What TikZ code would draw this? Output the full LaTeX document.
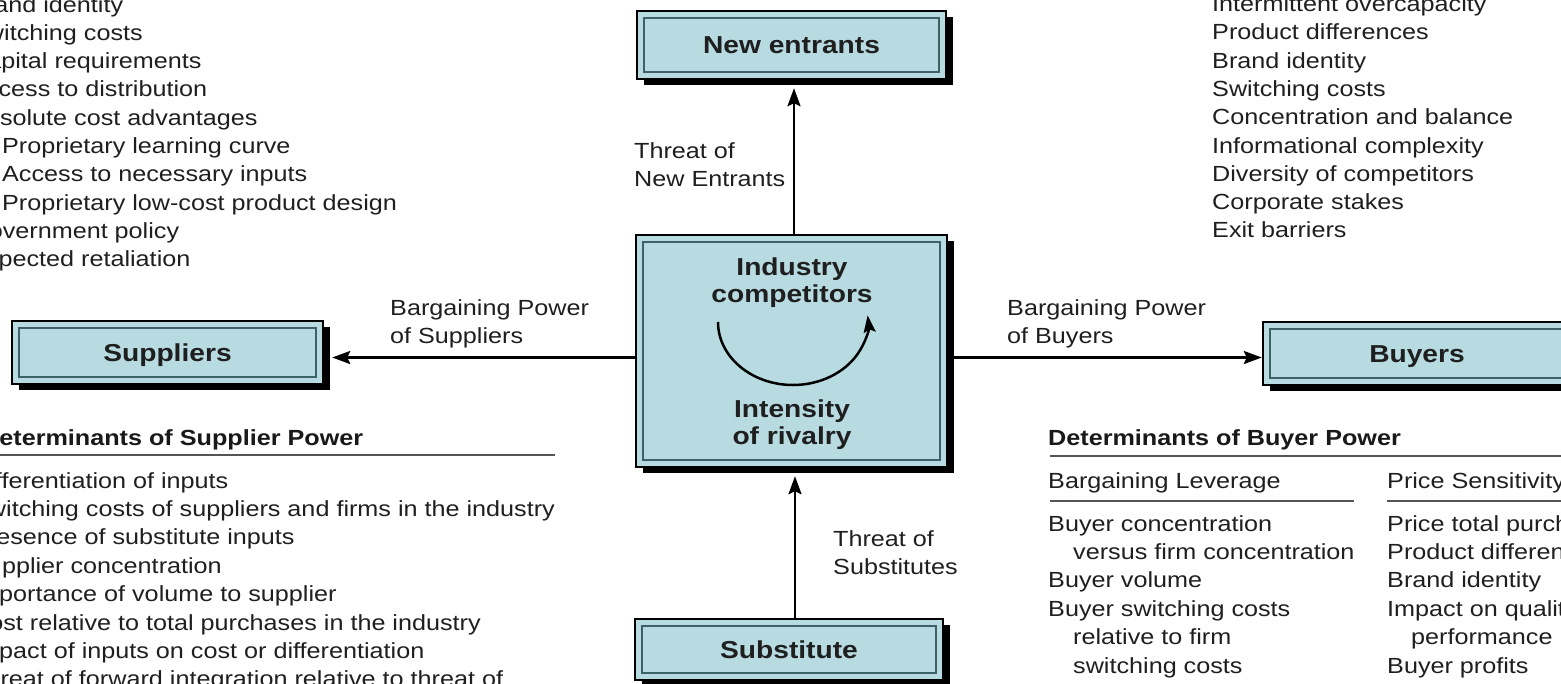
\documentclass[tikz,border=0pt]{standalone}
\usepackage{fontspec}
\setmainfont{Liberation Sans}[FakeStretch=1.15]
\usetikzlibrary{arrows.meta,shadows}

\definecolor{boxblue}{HTML}{B7DBE1}
\definecolor{rimline}{HTML}{3E6068}
\definecolor{inktext}{HTML}{1F1F1F}
\definecolor{rulegray}{HTML}{555555}

\tikzset{
  forcebox/.style={draw=black, line width=2.4pt, fill=boxblue, inner sep=0pt,
    font=\fontsize{24.5}{28}\selectfont\bfseries, text=black!88,
    text height=17pt, text depth=0pt,
    general shadow={fill=black, shadow xshift=7pt, shadow yshift=-6pt},
    path picture={\draw[rimline, line width=1.6pt]
      ([shift={(7,7)}]path picture bounding box.north west) rectangle
      ([shift={(-7,-7)}]path picture bounding box.south east);}},
  boxline/.style={inner sep=0pt, anchor=base, text=black!88,
    font=\fontsize{24.5}{28}\selectfont\bfseries},
  listtext/.style={inner sep=0pt, anchor=base west, text=inktext,
    font=\fontsize{21.9}{26}\selectfont},
  headtext/.style={inner sep=0pt, anchor=base west, text=black!90,
    font=\fontsize{21.9}{26}\selectfont\bfseries},
  conn/.style={line width=2.5pt, -{Stealth[length=18pt, width=13pt, inset=3pt]}},
  headrule/.style={draw=rulegray, line width=1.8pt},
}

\begin{document}
\begin{tikzpicture}[x=1pt, y=-1pt]
\useasboundingbox (0,0) rectangle (1561,683);
\clip (0,0) rectangle (1561,683);

% the five forces
\node[forcebox, minimum width=309pt, minimum height=68pt] (ne) at (791.5,45) {New entrants};
\node[forcebox, minimum width=311pt, minimum height=232pt, text height=0pt] (core) at (791.5,351) {};
\node[forcebox, minimum width=311pt, minimum height=63pt] (sup) at (167.5,352.5) {Suppliers};
\node[forcebox, minimum width=308pt, minimum height=63pt] (buy) at (1417,353.5) {Buyers};
\node[forcebox, minimum width=308pt, minimum height=61pt] (sub) at (789,649.5) {Substitute};

% rivalry box contents
\node[boxline] (ind1) at (792,275) {Industry};
\node[boxline] (ind2) at (792,302) {competitors};
\node[boxline] (riv1) at (792,417) {Intensity};
\node[boxline] (riv2) at (792,444) {of rivalry};
\draw[line width=2.5pt, -{Stealth[length=17pt, width=12pt, inset=3pt]}]
  ([shift={(-73.5,-29)}]core.center) arc[start angle=180, end angle=-6, x radius=75, y radius=63];

% connectors
\coordinate (support) at ([xshift=8pt, yshift=-5pt]sup.east);
\coordinate (buyport) at ([yshift=-4pt]buy.west);
\coordinate (netip) at ([xshift=2.5pt, yshift=-8pt]ne.south);
\coordinate (subtip) at ([xshift=3.5pt, yshift=-8pt]core.south);
\draw[conn] (core.north -| netip) -- (netip);
\draw[conn] (sub.north -| subtip) -- (subtip);
\draw[conn] (core.west |- support) -- (support);
\draw[conn] (core.east |- buyport) -- (buyport);

% connector labels
\node[listtext] (tn1) at (634,158) {Threat of};
\node[listtext] (tn2) at (634,186) {New Entrants};
\node[listtext] (ts1) at (833,546) {Threat of};
\node[listtext] (ts2) at (833,574) {Substitutes};
\node[listtext] (bs1) at (390,315) {Bargaining Power};
\node[listtext] (bs2) at (390,343) {of Suppliers};
\node[listtext] (bb1) at (1007,315) {Bargaining Power};
\node[listtext] (bb2) at (1007,343) {of Buyers};

% entry barriers
\foreach \x/\t [count=\i] in {-31/Brand identity, -31/Switching costs,
    -31/Capital requirements, -31/Access to distribution,
    -31/Absolute cost advantages, 2/Proprietary learning curve,
    2/Access to necessary inputs, 2/Proprietary low-cost product design,
    -31/Government policy, -31/Expected retaliation}
  \node[listtext] (entry\i) at (\x, {12+28.3*(\i-1)}) {\t};

% rivalry determinants
\foreach \t [count=\i] in {Intermittent overcapacity, Product differences,
    Brand identity, Switching costs, Concentration and balance,
    Informational complexity, Diversity of competitors,
    Corporate stakes, Exit barriers}
  \node[listtext] (rival\i) at (1212, {11.5+28.3*(\i-1)}) {\t};

% supplier power
\node[headtext] (suphead) at (-19,445) {Determinants of Supplier Power};
\draw[headrule] (-5,455) -- (555,455);
\foreach \t [count=\i] in {Differentiation of inputs,
    Switching costs of suppliers and firms in the industry,
    Presence of substitute inputs, Supplier concentration,
    Importance of volume to supplier,
    Cost relative to total purchases in the industry,
    Impact of inputs on cost or differentiation,
    Threat of forward integration relative to threat of}
  \node[listtext] (supitem\i) at (-29, {488+28.4*(\i-1)}) {\t};

% buyer power
\node[headtext] (buyhead) at (1048,445) {Determinants of Buyer Power};
\draw[headrule] (1050,456) -- (1575,456);
\node[listtext] (lev) at (1048,488) {Bargaining Leverage};
\draw[headrule] (1050,501) -- (1354,501);
\node[listtext] (sens) at (1387,488) {Price Sensitivity};
\draw[headrule] (1387,501) -- (1575,501);
\foreach \x/\t [count=\i] in {1048/Buyer concentration, 1073/versus firm concentration,
    1048/Buyer volume, 1048/Buyer switching costs, 1073/relative to firm,
    1073/switching costs}
  \node[listtext] (levitem\i) at (\x, {531+28.4*(\i-1)}) {\t};
\foreach \x/\t [count=\i] in {1387/Price total purchases, 1387/Product differences,
    1387/Brand identity, 1387/Impact on quality, 1411/performance,
    1387/Buyer profits}
  \node[listtext] (sensitem\i) at (\x, {531+28.4*(\i-1)}) {\t};
\end{tikzpicture}
\end{document}
